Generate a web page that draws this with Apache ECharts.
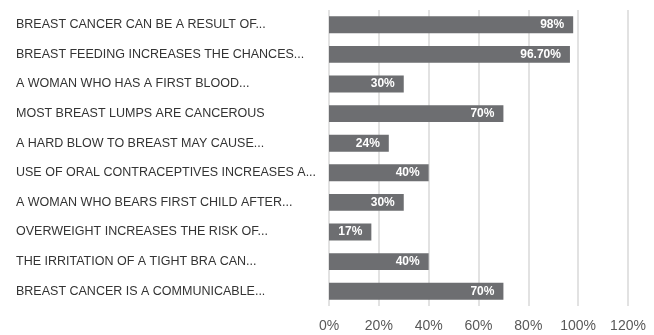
<!DOCTYPE html>
<html>
<head>
<meta charset="utf-8">
<script src="https://cdn.jsdelivr.net/npm/echarts@6/dist/echarts.min.js"></script>
<style>
  html, body { margin: 0; padding: 0; background: #fff; }
  #chart { width: 654px; height: 335px; }
</style>
</head>
<body>
<div id="chart"></div>
<script>
const categories = [
  'BREAST CANCER CAN BE A RESULT OF...',
  'BREAST FEEDING INCREASES THE CHANCES...',
  'A WOMAN WHO HAS A FIRST BLOOD...',
  'MOST BREAST LUMPS ARE CANCEROUS',
  'A HARD BLOW TO BREAST MAY CAUSE...',
  'USE OF ORAL CONTRACEPTIVES INCREASES A...',
  'A WOMAN WHO BEARS FIRST CHILD AFTER...',
  'OVERWEIGHT INCREASES THE RISK OF...',
  'THE IRRITATION OF A TIGHT BRA CAN...',
  'BREAST CANCER IS A COMMUNICABLE...'
];
const values = [98, 96.7, 30, 70, 24, 40, 30, 17, 40, 70];
const valueLabels = ['98%', '96.70%', '30%', '70%', '24%', '40%', '30%', '17%', '40%', '70%'];

const myChart = echarts.init(document.getElementById('chart'), null, { renderer: 'canvas' });
const option = {
  animation: false,
  grid: { left: 329, right: 26, top: 10, bottom: 29, containLabel: false },
  xAxis: {
    type: 'value',
    min: 0,
    max: 120,
    interval: 20,
    axisLine: { show: false },
    axisTick: { show: false },
    splitLine: { lineStyle: { color: '#d9d9d9', width: 1.5 } },
    axisLabel: {
      formatter: '{value}%',
      color: '#595959',
      fontSize: 14,
      fontFamily: 'Liberation Sans',
      margin: 13
    }
  },
  yAxis: {
    type: 'category',
    inverse: true,
    data: categories,
    axisLine: { show: false },
    axisTick: { show: false },
    axisLabel: {
      align: 'left',
      margin: 313,
      color: '#333333',
      fontSize: 12.5,
      fontFamily: 'Liberation Sans'
    }
  },
  series: [{
    type: 'bar',
    data: values,
    barCategoryGap: '43%',
    itemStyle: { color: '#6d6e71' },
    label: {
      show: true,
      position: 'insideRight',
      distance: 9,
      color: '#fff',
      fontWeight: 'bold',
      fontSize: 12,
      fontFamily: 'Liberation Sans',
      formatter: p => valueLabels[p.dataIndex]
    }
  }]
};
myChart.setOption(option);
window.onresize = function() {
  myChart.resize();
};
</script>
</body>
</html>
